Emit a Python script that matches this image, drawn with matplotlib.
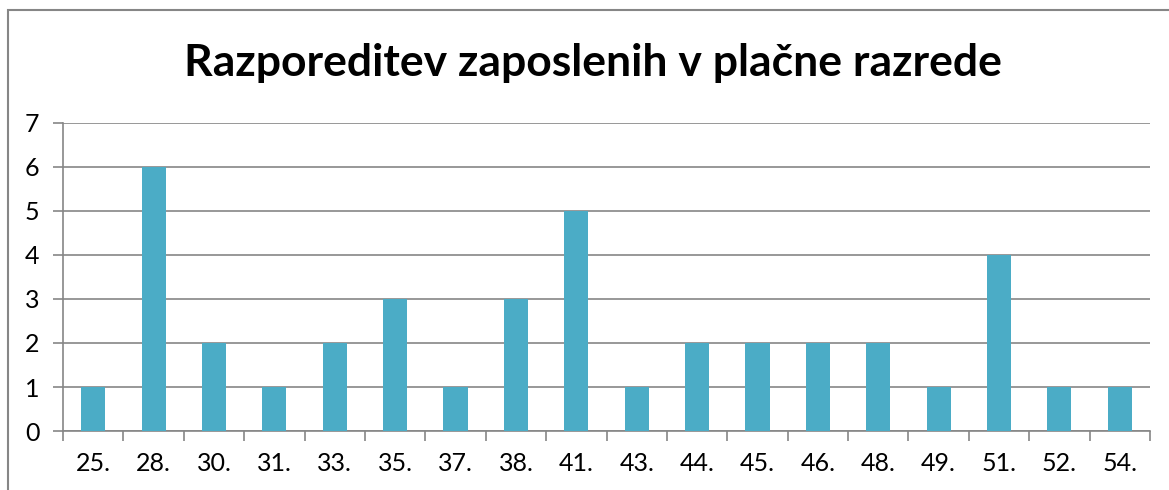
import matplotlib.pyplot as plt
import matplotlib.patches as mpatches
import numpy as np

razredi = ['25.', '28.', '30.', '31.', '33.', '35.', '37.', '38.', '41.',
           '43.', '44.', '45.', '46.', '48.', '49.', '51.', '52.', '54.']
zaposleni = [1, 6, 2, 1, 2, 3, 1, 3, 5, 1, 2, 2, 2, 2, 1, 4, 1, 1]

plt.rcParams['font.family'] = ['Lato', 'DejaVu Sans']

fig = plt.figure(figsize=(11.69, 4.9), dpi=100)
ax = fig.add_axes([63 / 1169, 1 - 431 / 490, 1087 / 1169, 308 / 490])

x = np.arange(len(razredi))
ax.bar(x, zaposleni, width=0.4, color='#4BACC6', zorder=3)

ax.set_xlim(-0.5, len(razredi) - 0.5)
ax.set_ylim(0, 7)
ax.set_yticks(range(0, 8))
ax.set_xticks(x)
ax.set_xticklabels(razredi)
ax.set_xticks(np.arange(-0.5, len(razredi)), minor=True)

ax.grid(axis='y', color='#868686', linewidth=1.2, zorder=0)
for side in ['top', 'right']:
    ax.spines[side].set_visible(False)
for side in ['left', 'bottom']:
    ax.spines[side].set_color('#868686')
    ax.spines[side].set_linewidth(1.2)

ax.tick_params(axis='x', which='major', length=0, pad=15, labelsize=18)
ax.tick_params(axis='x', which='minor', length=7, color='#868686', width=1.2)
ax.tick_params(axis='y', length=7, color='#868686', width=1.2, pad=10, labelsize=18)

fig.text(593 / 1169, 1 - 63 / 490, 'Razporeditev zaposlenih v plačne razrede',
         ha='center', va='center', fontsize=32, fontweight='bold')

# chart frame (only left and top edges are visible in the crop)
frame = mpatches.Rectangle((8 / 1169, -0.1), 1.2, 1.1 - 10 / 490,
                           transform=fig.transFigure, fill=False,
                           edgecolor='#868686', linewidth=1.5)
fig.patches.append(frame)

fig.savefig('out.png', dpi=100)
